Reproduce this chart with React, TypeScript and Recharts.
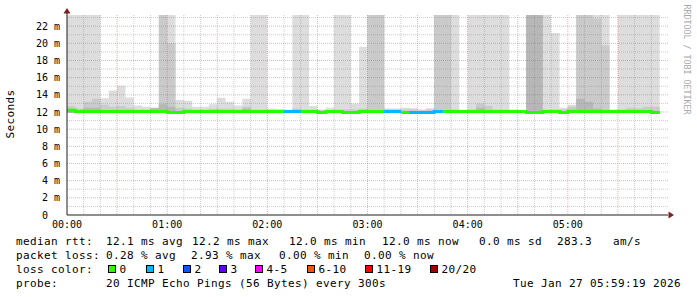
import React from 'react';
import { ComposedChart, Area, Line, XAxis, YAxis, CartesianGrid } from 'recharts';

// 5 minute slots, start minute of each slot
const SLOT_START = [
  0, 5, 10, 15, 20, 25, 30, 35, 40, 45, 50, 55,
  60, 65, 70, 75, 80, 85, 90, 95, 100, 105, 110, 115,
  120, 125, 130, 135, 140, 145, 150, 155, 160, 165, 170, 175,
  180, 185, 190, 195, 200, 205, 210, 215, 220, 225, 230, 235,
  240, 245, 250, 255, 260, 265, 270, 275, 280, 285, 290, 295,
  300, 305, 310, 315, 320, 325, 330, 335, 340, 345, 350,
];
const SLOT_LEN = 5;

// smoke (ms): lowest ping, outer band top, 2nd band top, 3rd band top
const PING_MIN = [
  11.9, 11.9, 11.9, 11.9, 11.9, 11.9, 11.9, 11.9, 11.9, 11.9, 11.9, 11.9,
  11.8, 11.8, 11.9, 11.9, 11.9, 11.9, 11.9, 11.9, 11.9, 11.9, 11.9, 11.9,
  11.9, 11.9, 11.9, 11.9, 11.9, 11.9, 11.8, 11.9, 11.9, 11.8, 11.8, 11.9,
  11.9, 11.9, 11.9, 11.9, 11.8, 11.8, 11.8, 11.8, 11.9, 11.9, 11.9, 11.9,
  11.9, 11.9, 11.9, 11.9, 11.9, 11.9, 11.9, 11.8, 11.8, 11.9, 11.9, 11.8,
  11.9, 11.9, 11.9, 11.9, 11.9, 11.9, 11.9, 11.9, 11.9, 11.9, 11.8,
];
const SMOKE_OUTER = [
  23.3, 23.3, 23.3, 23.3, 13.6, 14.5, 15.05, 13.7, 12.75, 12.6, 12.5, 23.3,
  23.3, 13.4, 13.3, 12.6, 12.6, 12.9, 13.65, 13.2, 12.75, 13.55, 23.3, 23.3,
  12.4, 12.3, 12.25, 23.3, 23.3, 12.7, 12.3, 12.5, 23.3, 23.3, 13.0, 19.6,
  23.3, 23.3, 12.4, 12.4, 12.5, 12.45, 12.3, 12.45, 23.3, 23.3, 23.3, 12.2,
  23.3, 23.3, 23.3, 23.3, 23.3, 12.3, 12.15, 23.3, 23.3, 23.3, 21.2, 12.5,
  12.85, 23.3, 23.3, 23.3, 23.3, 12.3, 23.3, 23.3, 23.3, 23.3, 23.3,
];
const SMOKE_MID = [
  12.7, 12.4, 13.2, 13.55, 12.85, 12.6, 12.7, 12.5, 12.3, 12.3, 12.5, 23.3,
  20.0, 12.5, 12.4, 12.3, 12.3, 12.4, 12.4, 12.4, 12.3, 12.6, 12.3, 12.3,
  12.2, 12.3, 12.2, 12.4, 12.3, 12.3, 12.2, 12.2, 12.3, 12.3, 12.3, 12.4,
  23.3, 23.3, 12.3, 12.3, 12.3, 12.3, 12.2, 12.3, 23.3, 23.3, 12.3, 12.2,
  12.3, 13.0, 12.7, 12.3, 12.3, 12.2, 12.1, 23.3, 23.3, 12.3, 12.3, 12.3,
  12.6, 23.3, 23.3, 22.9, 19.75, 12.2, 12.3, 12.5, 12.45, 12.6, 12.6,
];
const SMOKE_INNER = [
  12.1, 12.1, 12.5, 12.5, 12.1, 12.1, 12.1, 12.1, 12.1, 12.1, 12.45, 12.9,
  12.6, 12.1, 12.1, 12.1, 12.1, 12.1, 12.1, 12.1, 12.1, 12.4, 12.1, 12.1,
  12.1, 12.1, 12.1, 12.1, 12.1, 12.1, 12.1, 12.1, 12.1, 12.1, 12.1, 12.1,
  12.1, 12.1, 12.1, 12.1, 12.1, 12.1, 12.1, 12.1, 12.1, 12.1, 12.1, 12.1,
  12.1, 12.5, 12.1, 12.1, 12.1, 12.1, 12.1, 23.3, 23.3, 12.1, 12.1, 12.1,
  12.3, 13.55, 13.2, 12.4, 12.1, 12.1, 12.1, 12.1, 12.1, 12.1, 12.1,
];
const MEDIAN = [
  12.2, 12.05, 12.05, 12.05, 12.05, 12.05, 12.05, 12.05, 12.05, 12.05, 12.05, 12.05,
  11.95, 11.95, 12.05, 12.05, 12.05, 12.05, 12.05, 12.05, 12.05, 12.05, 12.05, 12.05,
  12.05, 12.05, 12.05, 12.05, 12.05, 12.05, 11.95, 12.05, 12.05, 11.95, 11.95, 12.05,
  12.05, 12.05, 12.05, 12.05, 11.95, 11.95, 11.95, 11.95, 12.05, 12.05, 12.05, 12.05,
  12.05, 12.05, 12.05, 12.05, 12.05, 12.05, 12.05, 11.95, 11.95, 12.05, 12.05, 11.95,
  12.05, 12.05, 12.05, 12.05, 12.05, 12.05, 12.05, 12.05, 12.05, 12.05, 11.95,
];
// lost pings out of 20
const LOSS = [
  0, 0, 0, 0, 0, 0, 0, 0, 0, 0, 0, 0,
  0, 0, 0, 0, 0, 0, 0, 0, 0, 0, 0, 0,
  0, 0, 1, 1, 0, 0, 0, 0, 0, 0, 0, 0,
  0, 0, 1, 1, 0, 1, 1, 1, 1, 0, 0, 0,
  0, 0, 0, 0, 0, 0, 0, 0, 0, 0, 0, 0,
  0, 0, 0, 0, 0, 0, 0, 0, 0, 0, 0,
];

const LOSS_LABELS = ['0', '1', '2', '3', '4-5', '6-10', '11-19', '20/20'];
const LOSS_FROM = [0, 1, 2, 3, 4, 6, 11, 20];
const LOSS_COLORS = ['#26ff00', '#00b8ff', '#0059ff', '#5e00ff', '#ff00ff', '#ff5500', '#ff0000', '#a10000'];

const X_TICKS = [0, 60, 120, 180, 240, 300];
const X_LABELS = ['00:00', '01:00', '02:00', '03:00', '04:00', '05:00'];
const Y_TICKS = [0, 2, 4, 6, 8, 10, 12, 14, 16, 18, 20, 22];
const Y_MINOR = [1, 3, 5, 7, 9, 11, 13, 15, 17, 19, 21, 23];
const X_MAJOR = [30, 60, 90, 120, 150, 180, 210, 240, 270, 300, 330];
const X_MINOR = [10, 20, 40, 50, 70, 80, 100, 110, 130, 140, 160, 170, 190, 200, 220, 230, 250, 260, 280, 290, 310, 320, 340, 350];

const RTT_TEXT = ['median rtt:', '12.1 ms avg', '12.2 ms max', '12.0 ms min', '12.0 ms now', '0.0 ms sd', '283.3', 'am/s'];
const LOSS_TEXT = ['packet loss:', '0.28 % avg', '2.93 % max', '0.00 % min', '0.00 % now'];
const PROBE_TEXT = ['probe:', '20 ICMP Echo Pings (56 Bytes) every 300s', 'Tue Jan 27 05:59:19 2026'];

// legend layout (px)
const RTT_X = [16, 106, 192, 289, 382, 479, 557, 613];
const LOSSTXT_X = [16, 106, 191, 279, 364];
const PROBE_X = [16, 106, 513];
const SWATCH_X = [108, 146, 183, 219, 255, 307, 365, 430];

const lossIndex = (n: number) => {
  let idx = 0;
  LOSS_FROM.forEach((from, i) => { if (n >= from) idx = i; });
  return idx;
};

const rows: any[] = [];
SLOT_START.forEach((t, i) => {
  [t, t + SLOT_LEN].forEach(x => {
    const row: any = {
      x,
      outer: [PING_MIN[i], SMOKE_OUTER[i]],
      mid: [PING_MIN[i], SMOKE_MID[i]],
      inner: [PING_MIN[i], SMOKE_INNER[i]],
    };
    LOSS_COLORS.forEach((_, c) => { row['med' + c] = lossIndex(LOSS[i]) === c ? MEDIAN[i] : null; });
    rows.push(row);
  });
});
const usedColors = LOSS_COLORS.map((_, c) => c).filter(c => LOSS.some(l => lossIndex(l) === c));

const mono = '"DejaVu Sans Mono", monospace';
const legendFont = { fontFamily: mono, fontSize: 11, letterSpacing: 0.38, fill: '#000' };

export default function App() {
  return (
    <div style={{ position: 'relative', width: 697, height: 297, background: '#fff' }}>
      <style>{'body{margin:0}'}</style>
      <ComposedChart width={697} height={297} data={rows} margin={{ top: 15, right: 29, bottom: 52, left: 0 }}>
        <XAxis dataKey="x" type="number" domain={[0, 360]} ticks={X_TICKS} allowDataOverflow
          tickFormatter={v => X_LABELS[X_TICKS.indexOf(v)]} height={30} tickLine={false} tickSize={6} tickMargin={0}
          axisLine={{ stroke: '#1f1f1f' }} tick={{ fill: '#000', fontSize: 10, fontFamily: mono }} interval={0} />
        <YAxis type="number" domain={[0, 23.3]} ticks={Y_TICKS} allowDataOverflow width={67}
          tickFormatter={v => (v === 0 ? '0\u00a0\u00a0' : `${v} m`)} tickLine={false} tickSize={6} tickMargin={1}
          axisLine={{ stroke: '#1f1f1f' }} tick={{ fill: '#000', fontSize: 10, fontFamily: mono }} interval={0} />
        <Area dataKey="outer" type="linear" stroke="none" fill="#dddddd" fillOpacity={1} isAnimationActive={false} activeDot={false} />
        <Area dataKey="mid" type="linear" stroke="none" fill="#cacaca" fillOpacity={1} isAnimationActive={false} activeDot={false} />
        <Area dataKey="inner" type="linear" stroke="none" fill="#b7b7b7" fillOpacity={1} isAnimationActive={false} activeDot={false} />
        <CartesianGrid zIndex={150} horizontalValues={Y_MINOR} verticalValues={X_MINOR}
          stroke="rgba(143,143,143,0.45)" strokeDasharray="1 1" />
        <CartesianGrid zIndex={160} horizontalValues={Y_TICKS.slice(1)} verticalValues={X_MAJOR}
          stroke="rgba(222,79,79,0.45)" strokeDasharray="1 1" />
        {usedColors.map(c => (
          <Line key={c} dataKey={'med' + c} type="linear" stroke={LOSS_COLORS[c]} strokeWidth={3}
            dot={false} activeDot={false} isAnimationActive={false} connectNulls={false} />
        ))}
      </ComposedChart>
      <svg width={697} height={297} style={{ position: 'absolute', left: 0, top: 0, pointerEvents: 'none' }}>
        <polygon points="67,8 63.5,13.5 70.5,13.5" fill="#801f1f" />
        <line x1={67} y1={13} x2={67} y2={15} stroke="#1f1f1f" />
        <polygon points="674,215 668.5,211.5 668.5,218.5" fill="#801f1f" />
        <text transform="translate(14.3,114) rotate(-90)" textAnchor="middle" style={legendFont}>Seconds</text>
        <text transform="translate(684.3,4.5) rotate(90)" style={{ fontFamily: mono, fontSize: 8.3, fill: '#a8a8a8' }}>RRDTOOL / TOBI OETIKER</text>
        {RTT_TEXT.map((t, i) => <text key={'r' + i} x={RTT_X[i]} y={245} style={legendFont}>{t}</text>)}
        {LOSS_TEXT.map((t, i) => <text key={'l' + i} x={LOSSTXT_X[i]} y={259} style={legendFont}>{t}</text>)}
        <text x={16} y={273} style={legendFont}>loss color:</text>
        {LOSS_LABELS.map((t, i) => (
          <g key={'s' + i}>
            <rect x={SWATCH_X[i] + 0.5} y={265.5} width={7} height={7} fill={LOSS_COLORS[i]} stroke="#000" />
            <text x={SWATCH_X[i] + 11.5} y={273} style={legendFont}>{t}</text>
          </g>
        ))}
        {PROBE_TEXT.map((t, i) => <text key={'p' + i} x={PROBE_X[i]} y={287} style={legendFont}>{t}</text>)}
      </svg>
    </div>
  );
}
